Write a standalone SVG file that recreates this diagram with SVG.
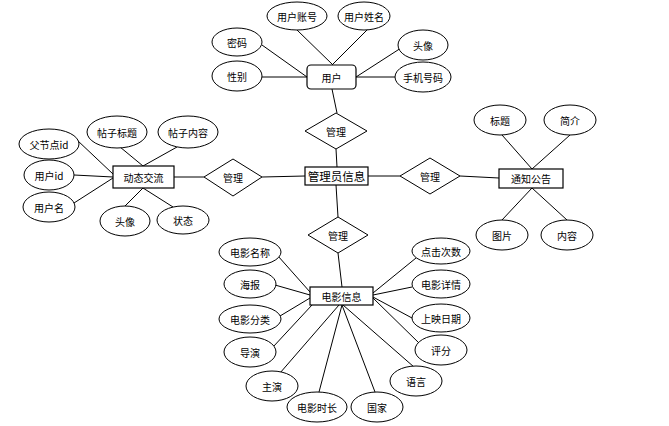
<svg xmlns="http://www.w3.org/2000/svg" width="669" height="426" viewBox="0 0 669 426">
<style>
.e{fill:#fff;stroke:#000;stroke-width:1}
.b{fill:#fff;stroke:#000;stroke-width:1.2}
.d{fill:#fff;stroke:#000;stroke-width:1}
.c line{stroke:#000;stroke-width:1}
text{font-family:"Noto Sans CJK SC","Liberation Sans",sans-serif;font-size:10px;fill:#000;text-anchor:middle;dominant-baseline:central}
.big{font-size:11.5px}
</style>
<rect width="669" height="426" fill="#fff"/>
<g class="c" id="connectors">
<line x1="297" y1="30" x2="333" y2="65"/>
<line x1="368" y1="29" x2="332" y2="65"/>
<line x1="262" y1="45" x2="307" y2="77"/>
<line x1="262" y1="77" x2="307" y2="77"/>
<line x1="401" y1="48" x2="356" y2="77"/>
<line x1="395" y1="77" x2="356" y2="77"/>
<line x1="332" y1="89" x2="337" y2="113"/>
<line x1="336" y1="149" x2="337" y2="167"/>
<line x1="336" y1="185" x2="338" y2="217"/>
<line x1="338" y1="253" x2="342" y2="287"/>
<line x1="305" y1="176" x2="262" y2="177"/>
<line x1="368" y1="176" x2="400" y2="176"/>
<line x1="460" y1="176" x2="499" y2="178"/>
<line x1="174" y1="177" x2="204" y2="177"/>
<line x1="77" y1="140" x2="113" y2="174"/>
<line x1="74" y1="175" x2="113" y2="177"/>
<line x1="74" y1="203" x2="113" y2="178"/>
<line x1="120" y1="147" x2="143" y2="166"/>
<line x1="177" y1="147" x2="143" y2="166"/>
<line x1="125" y1="206" x2="143" y2="188"/>
<line x1="173" y1="207" x2="143" y2="188"/>
<line x1="502" y1="135" x2="532" y2="169"/>
<line x1="570" y1="135" x2="532" y2="169"/>
<line x1="502" y1="220" x2="532" y2="188"/>
<line x1="567" y1="220" x2="532" y2="188"/>
<line x1="278" y1="256" x2="310" y2="292"/>
<line x1="275" y1="285" x2="310" y2="295"/>
<line x1="280" y1="316" x2="310" y2="298"/>
<line x1="273" y1="347" x2="312" y2="305"/>
<line x1="280" y1="373" x2="339" y2="305"/>
<line x1="319" y1="392" x2="342" y2="305"/>
<line x1="375" y1="392" x2="342" y2="305"/>
<line x1="414" y1="367" x2="343" y2="305"/>
<line x1="420" y1="344" x2="373" y2="298"/>
<line x1="412" y1="318" x2="373" y2="297"/>
<line x1="412" y1="287" x2="373" y2="295"/>
<line x1="416" y1="258" x2="373" y2="293"/>
</g>
<g id="admin"><rect class="b" x="305" y="167" width="63" height="18"/><text class="big" x="336.5" y="176">管理员信息</text></g>
<g id="user"><rect class="b" x="307" y="65" width="49" height="24" rx="4"/><text x="331.5" y="77">用户</text></g>
<g id="dongtai"><rect class="b" x="113" y="166" width="61" height="22"/><text x="143.5" y="177">动态交流</text></g>
<g id="notice"><rect class="b" x="499" y="169" width="64" height="19"/><text x="531" y="178.5">通知公告</text></g>
<g id="movie"><rect class="b" x="310" y="287" width="63" height="18"/><text x="341.5" y="296">电影信息</text></g>
<g id="rel-top"><polygon class="d" points="336,113 367,131 336,149 305,131"/><text x="336" y="131">管理</text></g>
<g id="rel-left"><polygon class="d" points="233,159 262,177 233,196 204,177"/><text x="233" y="177">管理</text></g>
<g id="rel-right"><polygon class="d" points="430,158 460,176 430,194 400,176"/><text x="430" y="176">管理</text></g>
<g id="rel-bottom"><polygon class="d" points="338,217 368,235 338,253 308,235"/><text x="338" y="235">管理</text></g>
<g id="u-account"><ellipse class="e" cx="297" cy="16" rx="30" ry="14"/><text x="297" y="16">用户账号</text></g>
<g id="u-name"><ellipse class="e" cx="364" cy="16" rx="26" ry="14"/><text x="364" y="16">用户姓名</text></g>
<g id="u-pwd"><ellipse class="e" cx="237" cy="42" rx="25" ry="14"/><text x="237" y="42">密码</text></g>
<g id="u-avatar"><ellipse class="e" cx="423" cy="45" rx="25" ry="15"/><text x="423" y="45">头像</text></g>
<g id="u-sex"><ellipse class="e" cx="237" cy="76" rx="25" ry="15"/><text x="237" y="76">性别</text></g>
<g id="u-phone"><ellipse class="e" cx="423" cy="77" rx="28" ry="15"/><text x="423" y="77">手机号码</text></g>
<g id="d-parent"><ellipse class="e" cx="49" cy="144" rx="30" ry="15"/><text x="49" y="144">父节点id</text></g>
<g id="d-title"><ellipse class="e" cx="117" cy="132" rx="30" ry="16"/><text x="117" y="132">帖子标题</text></g>
<g id="d-content"><ellipse class="e" cx="188" cy="132" rx="30" ry="16"/><text x="188" y="132">帖子内容</text></g>
<g id="d-uid"><ellipse class="e" cx="49" cy="175" rx="25" ry="15"/><text x="49" y="175">用户id</text></g>
<g id="d-uname"><ellipse class="e" cx="49" cy="207" rx="26" ry="15"/><text x="49" y="207">用户名</text></g>
<g id="d-avatar"><ellipse class="e" cx="125" cy="221" rx="25" ry="15"/><text x="125" y="221">头像</text></g>
<g id="d-status"><ellipse class="e" cx="183" cy="220" rx="26" ry="14"/><text x="183" y="220">状态</text></g>
<g id="n-title"><ellipse class="e" cx="500" cy="120" rx="26" ry="15"/><text x="500" y="120">标题</text></g>
<g id="n-intro"><ellipse class="e" cx="570" cy="120" rx="26" ry="15"/><text x="570" y="120">简介</text></g>
<g id="n-img"><ellipse class="e" cx="502" cy="235" rx="26" ry="15"/><text x="502" y="235">图片</text></g>
<g id="n-content"><ellipse class="e" cx="567" cy="235" rx="26" ry="15"/><text x="567" y="235">内容</text></g>
<g id="m-name"><ellipse class="e" cx="250" cy="252" rx="31" ry="14"/><text x="250" y="252">电影名称</text></g>
<g id="m-poster"><ellipse class="e" cx="250" cy="284" rx="26" ry="14"/><text x="250" y="284">海报</text></g>
<g id="m-cat"><ellipse class="e" cx="250" cy="319" rx="31" ry="14"/><text x="250" y="319">电影分类</text></g>
<g id="m-director"><ellipse class="e" cx="250" cy="352" rx="26" ry="15"/><text x="250" y="352">导演</text></g>
<g id="m-actor"><ellipse class="e" cx="272" cy="386" rx="26" ry="15"/><text x="272" y="386">主演</text></g>
<g id="m-duration"><ellipse class="e" cx="317" cy="407" rx="30" ry="15"/><text x="317" y="407">电影时长</text></g>
<g id="m-country"><ellipse class="e" cx="377" cy="407" rx="26" ry="15"/><text x="377" y="407">国家</text></g>
<g id="m-lang"><ellipse class="e" cx="416" cy="381" rx="26" ry="15"/><text x="416" y="381">语言</text></g>
<g id="m-score"><ellipse class="e" cx="441" cy="350" rx="26" ry="15"/><text x="441" y="350">评分</text></g>
<g id="m-date"><ellipse class="e" cx="441" cy="318" rx="29" ry="14"/><text x="441" y="318">上映日期</text></g>
<g id="m-detail"><ellipse class="e" cx="441" cy="284" rx="29" ry="14"/><text x="441" y="284">电影详情</text></g>
<g id="m-clicks"><ellipse class="e" cx="441" cy="251" rx="29" ry="13"/><text x="441" y="251">点击次数</text></g>
</svg>
